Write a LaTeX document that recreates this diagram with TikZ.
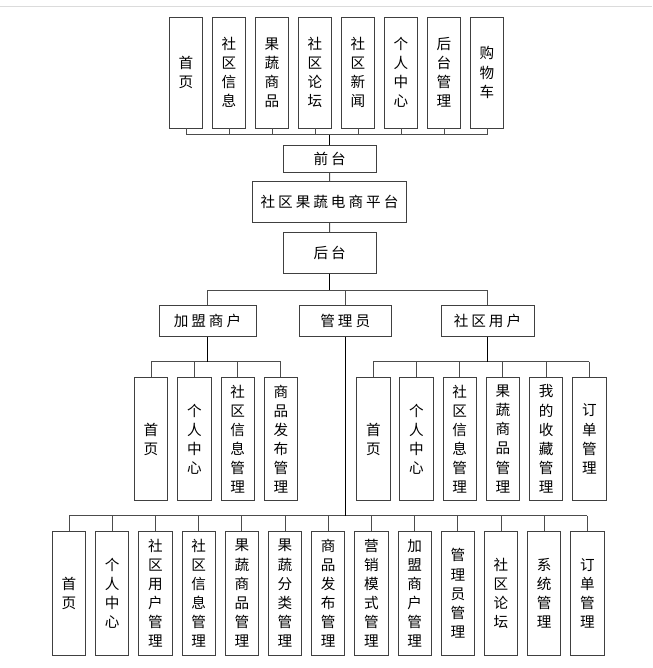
\documentclass[tikz,border=0pt]{standalone}
\usepackage{fontspec}
\newfontfamily\cjk{Noto Sans CJK SC}
\newcommand\gp{\hspace{3pt}}
\begin{document}
\begin{tikzpicture}[x=1pt,y=-1pt,
  box/.style={draw=black!75, line width=0.9pt, fill=white, inner sep=0pt, align=center,
    font=\cjk\fontsize{14.6}{19.1}\selectfont},
  vtop/.style={box, minimum width=33.3pt, minimum height=111pt},
  vmid/.style={box, minimum width=33.3pt, minimum height=123.4pt},
  hbox/.style={box, minimum height=#1},
  conn/.style={draw=black!70, line width=1pt},
  trunk/.style={draw=black, line width=1.5pt}]
\useasboundingbox (0,0) rectangle (652,668);
\draw[draw=black!14, line width=1.6pt] (0,6.7) -- (652,6.7);

% top row
\foreach \t [count=\i from 0] in {首\\页, 社\\区\\信\\息, 果\\蔬\\商\\品, 社\\区\\论\\坛, 社\\区\\新\\闻, 个\\人\\中\\心, 后\\台\\管\\理, 购\\物\\车}{
  \node[vtop] (t\i) at ({186+43*\i},72.5) {\t};
  \coordinate (tb\i) at ({186+43*\i},135);
  \draw[conn] (t\i.south) -- (tb\i);
}
\draw[conn] (tb0) -- (tb7);

\node[hbox=26.3pt, minimum width=92.7pt] (qt) at (329.7,159.1) {前\gp 台};
\node[hbox=41pt, minimum width=154.4pt] (pt) at (329.5,202.2) {社\gp 区\gp 果\gp 蔬\gp 电\gp 商\gp 平\gp 台};
\node[hbox=41pt, minimum width=92.7pt] (ht) at (329.7,252.8) {后\gp 台};
\coordinate (qtb) at (329.7,135);
\draw[trunk] (qt.north) -- (qtb);
\draw[conn] (qt.south) -- (pt.north);
\draw[conn] (pt.south) -- (ht.north);

% second level
\node[hbox=31.7pt, minimum width=97pt] (jm) at (207.5,320.8) {加\gp 盟\gp 商\gp 户};
\node[hbox=31.7pt, minimum width=92.7pt] (gl) at (345.3,320.8) {管\gp 理\gp 员};
\node[hbox=31.7pt, minimum width=93pt] (yh) at (487.5,320.8) {社\gp 区\gp 用\gp 户};
\coordinate (hb) at (329.7,290);
\coordinate (hbl) at (207.5,290);
\coordinate (hbm) at (345.3,290);
\coordinate (hbr) at (487.5,290);
\draw[trunk] (ht.south) -- (hb);
\draw[conn] (hbl) -- (hbr);
\draw[conn] (hbl) -- (jm.north);
\draw[conn] (hbm) -- (gl.north);
\draw[conn] (hbr) -- (yh.north);

% left group
\foreach \t [count=\i from 0] in {首\\页, 个\\人\\中\\心, 社\\区\\信\\息\\管\\理, 商\\品\\发\\布\\管\\理}{
  \node[vmid] (l\i) at ({151+43.33*\i},439) {\t};
  \coordinate (lb\i) at ({151+43.33*\i},361.7);
  \draw[conn] (lb\i) -- (l\i.north);
}
\draw[conn] (lb0) -- (lb3);
\coordinate (jmb) at (207.5,361.7);
\draw[trunk] (jm.south) -- (jmb);

% right group
\foreach \t [count=\i from 0] in {首\\页, 个\\人\\中\\心, 社\\区\\信\\息\\管\\理, 果\\蔬\\商\\品\\管\\理, 我\\的\\收\\藏\\管\\理, 订\\单\\管\\理}{
  \node[vmid] (r\i) at ({373.3+43.2*\i},439) {\t};
  \coordinate (rb\i) at ({373.3+43.2*\i},361.7);
  \draw[conn] (rb\i) -- (r\i.north);
}
\draw[conn] (rb0) -- (rb5);
\coordinate (yhb) at (487.5,361.7);
\draw[trunk] (yh.south) -- (yhb);

% bottom group
\foreach \t [count=\i from 0] in {首\\页, 个\\人\\中\\心, 社\\区\\用\\户\\管\\理, 社\\区\\信\\息\\管\\理, 果\\蔬\\商\\品\\管\\理, 果\\蔬\\分\\类\\管\\理, 商\\品\\发\\布\\管\\理, 营\\销\\模\\式\\管\\理, 加\\盟\\商\\户\\管\\理, 管\\理\\员\\管\\理, 社\\区\\论\\坛, 系\\统\\管\\理, 订\\单\\管\\理}{
  \node[vmid] (b\i) at ({69+43.2*\i},593.3) {\t};
  \coordinate (bb\i) at ({69+43.2*\i},515.7);
  \draw[conn] (bb\i) -- (b\i.north);
}
\draw[conn] (bb0) -- (bb12);
\coordinate (glb) at (345.3,515.7);
\draw[trunk] (gl.south) -- (glb);
\end{tikzpicture}
\end{document}
